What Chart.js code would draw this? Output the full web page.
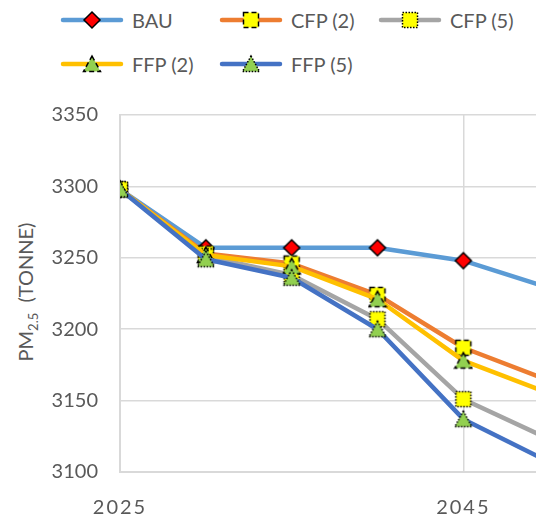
<!DOCTYPE html>
<html>
<head>
<meta charset="utf-8">
<script src="https://cdn.jsdelivr.net/npm/chart.js@4"></script>
<style>
  body { margin: 0; background: #fff; }
  #wrap { position: relative; width: 536px; height: 519px; overflow: hidden; font-family: Lato, sans-serif; color: #595959; }
  #chart { position: absolute; left: 0; top: 0; }
  .legend-item { position: absolute; display: flex; align-items: center; height: 24px; font-size: 20px; white-space: nowrap; }
  .legend-item span { margin-left: 8px; }
  #yTitle { position: absolute; left: 27px; top: 292px; transform: translate(-50%, -50%) rotate(-90deg); font-size: 20px; white-space: nowrap; }
  #yTitle sub { font-size: 13px; }
</style>
</head>
<body>
<div id="wrap">
  <div id="legend"></div>
  <div id="yTitle">PM<sub>2.5</sub>&nbsp; (TONNE)</div>
  <canvas id="chart" width="635" height="519"></canvas>
</div>
<script>
const years = [2025, 2030, 2035, 2040, 2045, 2050];
const seriesNames = ['BAU', 'CFP (2)', 'CFP (5)', 'FFP (2)', 'FFP (5)'];
const bau  = [3298, 3257, 3257, 3257, 3248, 3229];
const cfp2 = [3298, 3253, 3246, 3224, 3187, 3164];
const cfp5 = [3298, 3251, 3238, 3207, 3151, 3123];
const ffp2 = [3298, 3252, 3244, 3221, 3178, 3155];
const ffp5 = [3298, 3249, 3236, 3200, 3137, 3107];
const xTickLabels = [2025, 2045];
const yTickLabels = [3100, 3150, 3200, 3250, 3300, 3350];

const lineColors = ['#5B9BD5', '#ED7D31', '#A5A5A5', '#FFC000', '#4472C4'];
const markerKinds = ['diamond', 'square', 'square', 'triangle', 'triangle'];
const markerDash = [[], [5, 3], [1.5, 1.5], [5, 3], [1.5, 1.5]];

// excel style marker, drawn once and handed to chart.js as pointStyle
function makeMarker(kind, dash) {
  const c = document.createElement('canvas');
  c.width = 20; c.height = 20;
  const g = c.getContext('2d');
  g.lineWidth = 1.5;
  g.strokeStyle = '#000';
  g.setLineDash(dash);
  g.beginPath();
  if (kind === 'diamond') {
    g.moveTo(10, 2); g.lineTo(18, 10); g.lineTo(10, 18); g.lineTo(2, 10); g.closePath();
    g.fillStyle = '#FF0000';
  } else if (kind === 'square') {
    g.rect(2.5, 2.5, 15, 15);
    g.fillStyle = '#FFFF00';
  } else {
    g.moveTo(10, 2); g.lineTo(18.5, 17.5); g.lineTo(1.5, 17.5); g.closePath();
    g.fillStyle = '#92D050';
  }
  g.fill();
  g.stroke();
  return c;
}

const markers = markerKinds.map((k, i) => makeMarker(k, markerDash[i]));

// html legend, laid out like the excel one
const legendPos = [[60, 8], [219, 8], [378, 8], [60, 52], [219, 52]];
const legend = document.getElementById('legend');
seriesNames.forEach((name, i) => {
  const item = document.createElement('div');
  item.className = 'legend-item';
  item.style.left = legendPos[i][0] + 'px';
  item.style.top = legendPos[i][1] + 'px';
  const icon = document.createElement('canvas');
  icon.width = 64; icon.height = 20;
  const g = icon.getContext('2d');
  g.strokeStyle = lineColors[i];
  g.lineWidth = 4.5;
  g.lineCap = 'round';
  g.beginPath(); g.moveTo(3, 10); g.lineTo(61, 10); g.stroke();
  g.drawImage(markers[i], 22, 0);
  const label = document.createElement('span');
  label.textContent = name;
  item.appendChild(icon);
  item.appendChild(label);
  legend.appendChild(item);
});

const values = [bau, cfp2, cfp5, ffp2, ffp5];
const datasets = values.map((vals, i) => ({
  label: seriesNames[i],
  data: years.map((yr, j) => ({ x: yr, y: vals[j] })),
  borderColor: lineColors[i],
  backgroundColor: lineColors[i],
  borderWidth: 4.5,
  borderJoinStyle: 'round',
  borderCapStyle: 'round',
  tension: 0,
  pointStyle: markers[i],
  pointRadius: 9,
  pointBorderWidth: 0,
  order: values.length - 1 - i
}));

const tickFont = { family: 'Lato', size: 20 };
const gridColor = '#D9D9D9';

const chart = new Chart(document.getElementById('chart'), {
  type: 'line',
  data: { datasets },
  options: {
    responsive: false,
    animation: false,
    layout: { autoPadding: false, padding: { top: 115, right: 0, bottom: 0, left: 0 } },
    plugins: { legend: { display: false }, tooltip: { enabled: false } },
    scales: {
      x: {
        type: 'linear',
        min: 2025,
        max: 2055,
        afterBuildTicks: scale => { scale.ticks = xTickLabels.map(v => ({ value: v })); },
        afterFit: scale => { scale.height = 47; },
        ticks: { color: '#595959', font: tickFont, padding: 24, maxRotation: 0, callback: v => String(v) },
        grid: { color: gridColor, lineWidth: 1.5, drawTicks: false },
        border: { color: gridColor, width: 2 }
      },
      y: {
        min: 3100,
        max: 3350,
        afterBuildTicks: scale => { scale.ticks = yTickLabels.map(v => ({ value: v })); },
        afterFit: scale => { scale.width = 120; },
        ticks: { color: '#595959', font: tickFont, padding: 22, callback: v => String(v) },
        grid: { color: gridColor, lineWidth: 1.5, drawTicks: false },
        border: { color: gridColor, width: 2 }
      }
    }
  }
});

// the year labels are letter spaced in the original
const xScale = chart.scales.x;
const drawXLabels = xScale.drawLabels;
xScale.drawLabels = function (area) {
  this.ctx.save();
  this.ctx.letterSpacing = '2px';
  drawXLabels.call(this, area);
  this.ctx.restore();
};
chart.draw();
</script>
</body>
</html>
